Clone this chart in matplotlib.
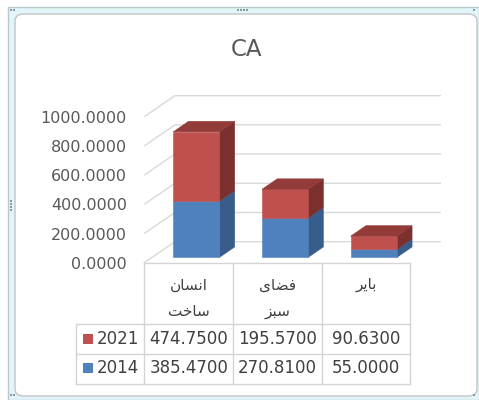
import matplotlib
matplotlib.use("Agg")
import matplotlib.pyplot as plt
from matplotlib.patches import Polygon, Rectangle, FancyBboxPatch
import matplotlib.transforms as mtransforms

# ---------------- data ----------------
title = "CA"
categories = ["انسان ساخت", "فضای سبز", "بایر"]
series_2021_name = "2021"
series_2014_name = "2014"
values_2014 = [385.47, 270.81, 55.0]
values_2021 = [474.75, 195.57, 90.63]
y_ticks = [0, 200, 400, 600, 800, 1000]

# ---------------- styles ----------------
BLUE = ("#4F81BD", "#385D8A", "#3A6396")   # front, side, top
RED = ("#C0504D", "#7B302E", "#923B38")
GRID = "#D9D9D9"
TXT = "#595959"
FONT = ["DejaVu Sans", "Noto Sans"]
plt.rcParams["font.family"] = FONT

W, H = 479, 400
fig = plt.figure(figsize=(W / 100, H / 100), dpi=100)


def fx(px):
    return px / W


def fy(py):
    return 1 - py / H


# ---------------- simple Arabic shaping (for matplotlib, which has no bidi) ----------------
FORMS = {
    "ا": (0xFE8D, 0xFE8E, None, None),
    "ب": (0xFE8F, 0xFE90, 0xFE91, 0xFE92),
    "ت": (0xFE95, 0xFE96, 0xFE97, 0xFE98),
    "خ": (0xFEA5, 0xFEA6, 0xFEA7, 0xFEA8),
    "ر": (0xFEAD, 0xFEAE, None, None),
    "ز": (0xFEAF, 0xFEB0, None, None),
    "س": (0xFEB1, 0xFEB2, 0xFEB3, 0xFEB4),
    "ض": (0xFEBD, 0xFEBE, 0xFEBF, 0xFEC0),
    "ف": (0xFED1, 0xFED2, 0xFED3, 0xFED4),
    "ن": (0xFEE5, 0xFEE6, 0xFEE7, 0xFEE8),
    "ی": (0xFBFC, 0xFBFD, 0xFBFE, 0xFBFF),
}


def shape_word(word):
    out = []
    for i, ch in enumerate(word):
        if ch not in FORMS:
            out.append(ch)
            continue
        f = FORMS[ch]
        prev = word[i - 1] if i > 0 else None
        nxt = word[i + 1] if i + 1 < len(word) else None
        jp = prev in FORMS and FORMS[prev][2] is not None
        jn = nxt in FORMS and f[2] is not None
        if jp and jn:
            c = f[3]
        elif jp:
            c = f[1]
        elif jn:
            c = f[2]
        else:
            c = f[0]
        out.append(chr(c))
    return "".join(reversed(out))


# ---------------- frame ----------------
fig.patches.append(Rectangle((fx(8), fy(399.5)), fx(470.5), fy(7) - fy(399.5),
                             transform=fig.transFigure, facecolor="#E2F5F9",
                             edgecolor="#B9C9CE", linewidth=1.0, zorder=-3))
fig.patches.append(FancyBboxPatch((fx(15), fy(396)), fx(462) - fx(0), fy(14) - fy(396),
                                  boxstyle="round,pad=0,rounding_size=0.018",
                                  transform=fig.transFigure, facecolor="white",
                                  edgecolor="#C4C4C4", linewidth=1.0, zorder=-2))
for px, py in [(238, 10), (241, 10), (244, 10), (247, 10),
               (11, 201), (11, 204), (11, 207), (11, 210),
               (11, 10), (14, 10), (474, 10), (11, 395), (14, 395), (474, 395)]:
    fig.patches.append(Rectangle((fx(px - 1), fy(py + 1)), fx(2), fy(0) - fy(2),
                                 transform=fig.transFigure, facecolor="#8A9A9E",
                                 edgecolor="none", zorder=-1))

# ---------------- title ----------------
fig.text(fx(247), fy(50), title, ha="center", va="center", fontsize=16.5, color=TXT)

# ---------------- axes (front plane) ----------------
ax = fig.add_axes([fx(144.3), fy(262.7), fx(266.1), (262.7 - 116.7) / H])
ax.set_zorder(2)
ax.set_xlim(0, len(categories))
ax.set_ylim(0, 1000)
for s in ax.spines.values():
    s.set_visible(False)
ax.set_xticks([])
ax.set_yticks(y_ticks)
ax.set_yticklabels([f"{v:.4f}" for v in y_ticks])
ax.tick_params(axis="y", length=0, pad=12.5, labelsize=11.5, labelcolor=TXT)
ax.patch.set_alpha(0)

# depth projection (oblique)
KX, KY = 0.345, 144.0


def P(x, v, d):
    return (x + d * KX, v + d * KY)


n = len(categories)
for v in y_ticks:
    pts = [P(0, v, 0), P(0, v, 1), P(n, v, 1)]
    ax.plot([p[0] for p in pts], [p[1] for p in pts], color=GRID, lw=1.0,
            clip_on=False, zorder=1, solid_capstyle="butt")

bw = 0.52
d0, d1 = 0.25, 0.75
for i in range(n):
    base = 0.0
    xl, xr = i + 0.5 - bw / 2, i + 0.5 + bw / 2
    segs = [(values_2014[i], BLUE), (values_2021[i], RED)]
    for k, (val, cols) in enumerate(segs):
        top = base + val
        front = [P(xl, base, d0), P(xr, base, d0), P(xr, top, d0), P(xl, top, d0)]
        side = [P(xr, base, d0), P(xr, base, d1), P(xr, top, d1), P(xr, top, d0)]
        ax.add_patch(Polygon(side, closed=True, facecolor=cols[1], edgecolor=cols[1],
                             lw=0.4, clip_on=False, zorder=3))
        ax.add_patch(Polygon(front, closed=True, facecolor=cols[0], edgecolor=cols[0],
                             lw=0.4, clip_on=False, zorder=4))
        if k == len(segs) - 1:
            tp = [P(xl, top, d0), P(xr, top, d0), P(xr, top, d1), P(xl, top, d1)]
            ax.add_patch(Polygon(tp, closed=True, facecolor=cols[2], edgecolor=cols[2],
                                 lw=0.4, clip_on=False, zorder=4))
        base = top

# ---------------- data table ----------------
tr = mtransforms.blended_transform_factory(ax.transData, fig.transFigure)
row_y = [262.7, 324.0, 354.0, 384.3]
left_x = (76 - 144.3) / 88.7 * 1.0
LINE = "#D4D4D4"
for i in range(n + 1):
    ax.plot([i, i], [fy(row_y[0]), fy(row_y[3])], transform=tr, color=LINE, lw=1.0,
            clip_on=False, zorder=2)
ax.plot([left_x, left_x], [fy(row_y[1]), fy(row_y[3])], transform=tr, color=LINE, lw=1.0,
        clip_on=False, zorder=2)
ax.plot([0, n], [fy(row_y[0]), fy(row_y[0])], transform=tr, color=LINE, lw=1.0,
        clip_on=False, zorder=2)
for yy in row_y[1:]:
    ax.plot([left_x, n], [fy(yy), fy(yy)], transform=tr, color=LINE, lw=1.0,
            clip_on=False, zorder=2)

for i, cat in enumerate(categories):
    words = cat.split(" ")
    for j, w in enumerate(words):
        ax.text(i + 0.5, fy(285 + j * 26.7), shape_word(w), transform=tr,
                ha="center", va="center", fontsize=11, color="#404040")

rows = [(series_2021_name, values_2021, RED[0], 339.3),
        (series_2014_name, values_2014, BLUE[0], 368.3)]
for name, vals, col, yc in rows:
    fig.patches.append(Rectangle((fx(82.7), fy(yc + 5)), fx(10.5), fy(0) - fy(10),
                                 transform=fig.transFigure, facecolor=col,
                                 edgecolor="none", zorder=3))
    fig.text(fx(96.5), fy(yc), name, ha="left", va="center", fontsize=12, color="#404040")
    for i, v in enumerate(vals):
        ax.text(i + 0.5, fy(yc), f"{v:.4f}", transform=tr, ha="center", va="center",
                fontsize=12, color="#404040")

fig.savefig("out.png", dpi=100)
